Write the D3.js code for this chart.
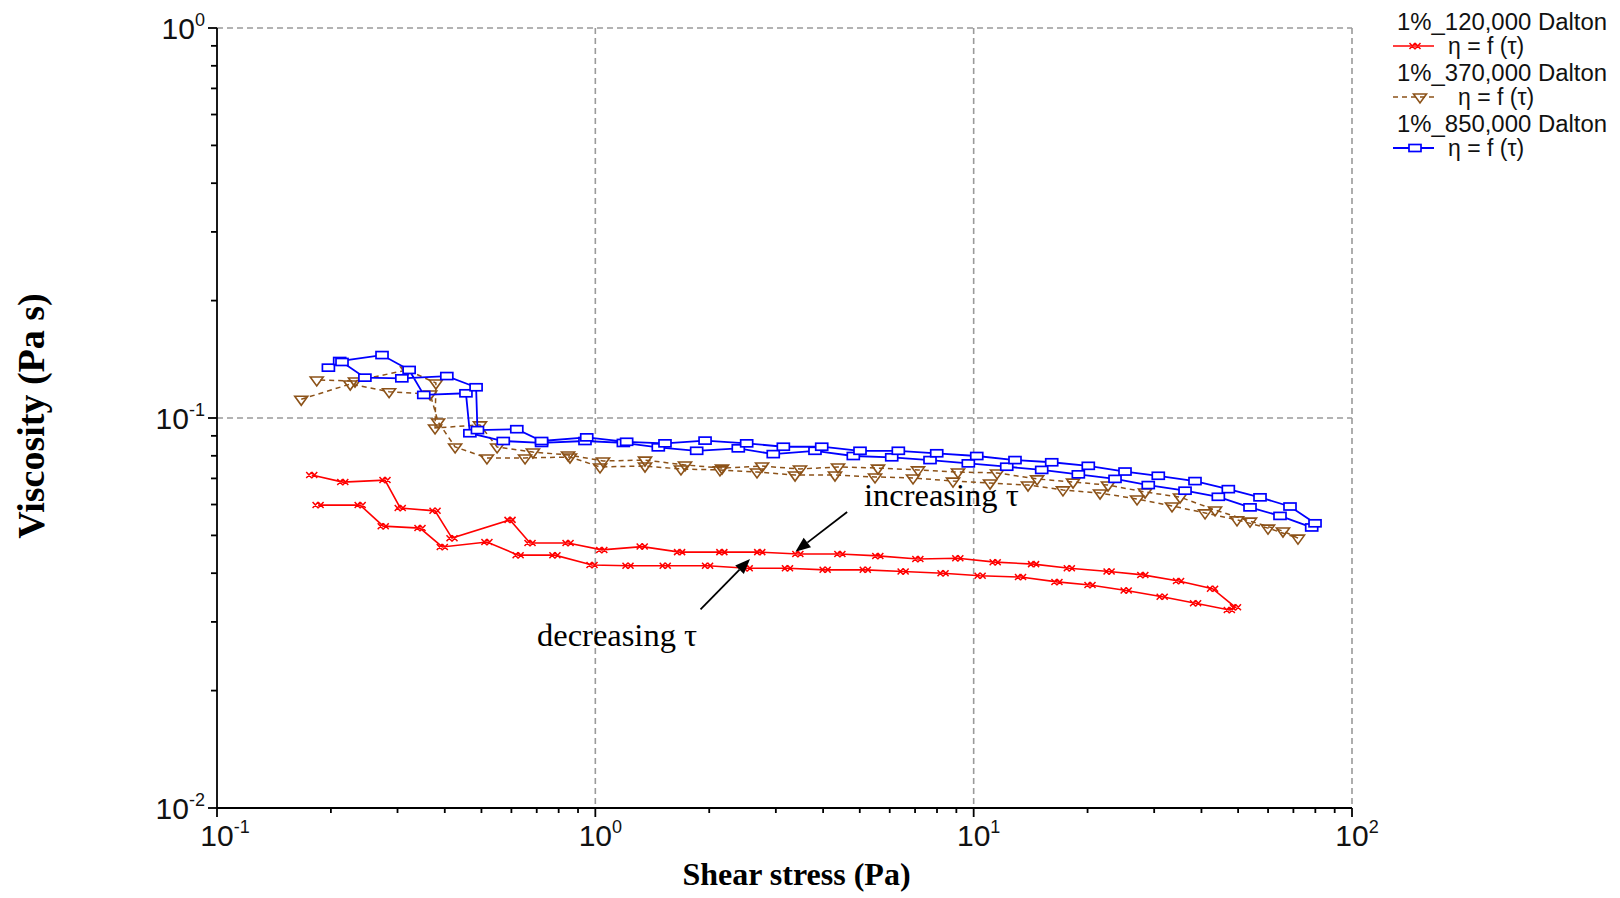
<!DOCTYPE html>
<html>
<head>
<meta charset="utf-8">
<script src="https://cdn.jsdelivr.net/npm/d3@7"></script>
<style>
  body { margin: 0; background: #fff; }
  svg { display: block; }
</style>
</head>
<body>
<svg id="chart" width="1620" height="898"></svg>
<script>
// ---- Data: viscosity (Pa s) against shear stress (Pa), up and down ramps ----
// 1% 120,000 Dalton
const stress120Inc = [0.178, 0.215, 0.278, 0.305, 0.377, 0.418, 0.595, 0.672, 0.847, 1.04, 1.33, 1.67, 2.16, 2.72, 3.43, 4.43, 5.58, 7.12, 9.08, 11.4, 14.4, 17.9, 22.8, 28.0, 34.8, 42.8, 49.2];
const visc120Inc   = [0.0714, 0.0685, 0.0693, 0.0588, 0.0578, 0.0492, 0.0548, 0.0478, 0.0478, 0.0459, 0.0468, 0.0453, 0.0453, 0.0453, 0.0448, 0.0448, 0.0443, 0.0435, 0.0437, 0.0427, 0.0422, 0.0412, 0.0404, 0.0396, 0.0382, 0.0365, 0.0327];
const stress120Dec = [47.4, 38.6, 31.5, 25.3, 20.3, 16.6, 13.3, 10.4, 8.30, 6.51, 5.17, 4.05, 3.22, 2.52, 1.98, 1.53, 1.22, 0.98, 0.782, 0.625, 0.517, 0.394, 0.344, 0.275, 0.239, 0.185];
const visc120Dec   = [0.0322, 0.0335, 0.0348, 0.0361, 0.0373, 0.0380, 0.0391, 0.0394, 0.0400, 0.0404, 0.0408, 0.0408, 0.0412, 0.0412, 0.0418, 0.0418, 0.0418, 0.0420, 0.0445, 0.0445, 0.0481, 0.0467, 0.0522, 0.0528, 0.0598, 0.0598];

// 1% 370,000 Dalton
const stress370Inc = [0.167, 0.225, 0.285, 0.366, 0.384, 0.426, 0.517, 0.652, 0.857, 1.029, 1.353, 1.684, 2.135, 2.675, 3.372, 4.300, 5.486, 6.914, 8.819, 11.05, 13.92, 17.22, 21.58, 27.03, 33.44, 40.89, 49.67, 59.98, 71.98];
const visc370Inc   = [0.1117, 0.1222, 0.1168, 0.1152, 0.0977, 0.0843, 0.0790, 0.0790, 0.0794, 0.0749, 0.0753, 0.0740, 0.0736, 0.0727, 0.0714, 0.0714, 0.0706, 0.0702, 0.0689, 0.0681, 0.0673, 0.0654, 0.0642, 0.0620, 0.0595, 0.0571, 0.0548, 0.0522, 0.0492];
const stress370Dec = [65.70, 53.76, 43.45, 35.11, 28.38, 22.65, 18.31, 14.71, 11.53, 9.09, 7.127, 5.587, 4.380, 3.475, 2.759, 2.162, 1.726, 1.353, 1.048, 0.847, 0.684, 0.550, 0.4955, 0.377, 0.379, 0.318, 0.2316, 0.1835];
const visc370Dec   = [0.0513, 0.0544, 0.0581, 0.0627, 0.0646, 0.0673, 0.0685, 0.0698, 0.0723, 0.0727, 0.0736, 0.0744, 0.0749, 0.0740, 0.0753, 0.0744, 0.0758, 0.0780, 0.0776, 0.0804, 0.0818, 0.0843, 0.0960, 0.0943, 0.1229, 0.1328, 0.1244, 0.1252];

// 1% 850,000 Dalton
const stress850Inc = [0.197, 0.211, 0.273, 0.322, 0.352, 0.455, 0.466, 0.571, 0.721, 0.939, 1.186, 1.467, 1.853, 2.387, 2.953, 3.807, 4.807, 6.073, 7.667, 9.68, 12.23, 15.13, 18.91, 23.64, 28.94, 36.20, 44.33, 53.76, 64.52, 78.25];
const visc850Inc   = [0.1346, 0.140, 0.145, 0.1328, 0.1146, 0.1157, 0.0914, 0.0873, 0.0863, 0.0873, 0.0863, 0.0841, 0.0824, 0.0836, 0.0808, 0.0824, 0.0799, 0.0793, 0.0780, 0.0765, 0.0750, 0.0736, 0.0717, 0.0698, 0.0673, 0.0651, 0.0628, 0.0590, 0.0561, 0.0524];
const stress850Dec = [79.85, 68.57, 57.13, 47.11, 38.46, 30.76, 25.12, 20.09, 16.08, 12.86, 10.19, 7.986, 6.322, 5.007, 3.966, 3.140, 2.512, 1.950, 1.528, 1.210, 0.949, 0.721, 0.620, 0.488, 0.484, 0.405, 0.308, 0.246, 0.214];
const visc850Dec   = [0.0537, 0.0593, 0.0626, 0.0657, 0.0689, 0.0711, 0.0729, 0.0754, 0.0770, 0.0780, 0.0799, 0.0812, 0.0824, 0.0824, 0.0844, 0.0844, 0.0861, 0.0875, 0.0861, 0.0869, 0.0892, 0.0873, 0.0936, 0.0931, 0.1199, 0.1281, 0.1264, 0.1269, 0.1392];

// Axis decades and labels
const xDecadeExps = [-1, 0, 1, 2];
const yDecadeExps = [-2, -1, 0];
const xGridValues = [1, 10, 100];
const yGridValues = [0.1, 1];
const xTitle = "Shear stress (Pa)";
const yTitle = "Viscosity (Pa s)";

// Legend
const seriesNames = ["1%_120,000 Dalton", "1%_370,000 Dalton", "1%_850,000 Dalton"];
const seriesLabel = "\u03b7 = f (\u03c4)";

// Annotations (arrow tail -> tip, text anchor) in data units
const annotations = [
  { text: "increasing \u03c4", tx: 5.13, ty: 0.0595, from: [4.63, 0.0574], to: [3.38, 0.0454] },
  { text: "decreasing \u03c4", tx: 0.701, ty: 0.0260, from: [1.897, 0.0323], to: [2.564, 0.0435] }
];

// ---- Layout ----
const W = 1620, H = 898;
const plot = { left: 217, right: 1352, top: 28, bottom: 808 };

const x = d3.scaleLog().domain([0.1, 100]).range([plot.left, plot.right]);
const y = d3.scaleLog().domain([0.01, 1]).range([plot.bottom, plot.top]);

const svg = d3.select("#chart");
svg.append("rect").attr("width", W).attr("height", H).attr("fill", "#fff");

// ---- Grid (dashed) ----
const grid = svg.append("g")
  .attr("stroke", "#9a9a9a")
  .attr("stroke-width", 1.6)
  .attr("stroke-dasharray", "6,4")
  .attr("fill", "none");
grid.selectAll("line.gx").data(xGridValues).join("line").attr("class", "gx")
  .attr("x1", d => x(d)).attr("x2", d => x(d))
  .attr("y1", plot.top).attr("y2", plot.bottom);
grid.selectAll("line.gy").data(yGridValues).join("line").attr("class", "gy")
  .attr("x1", plot.left).attr("x2", plot.right)
  .attr("y1", d => y(d)).attr("y2", d => y(d));

// ---- Axes ----
const axes = svg.append("g").attr("stroke", "#000").attr("stroke-width", 1.8);
axes.append("line").attr("x1", plot.left).attr("x2", plot.left).attr("y1", plot.top).attr("y2", plot.bottom);
axes.append("line").attr("x1", plot.left).attr("x2", plot.right).attr("y1", plot.bottom).attr("y2", plot.bottom);

const isDecade = v => Math.abs(Math.log10(v) - Math.round(Math.log10(v))) < 1e-9;

axes.selectAll("line.tx").data(x.ticks()).join("line").attr("class", "tx")
  .attr("x1", d => x(d)).attr("x2", d => x(d))
  .attr("y1", plot.bottom).attr("y2", d => plot.bottom + (isDecade(d) ? 9 : 5));
axes.selectAll("line.ty").data(y.ticks()).join("line").attr("class", "ty")
  .attr("y1", d => y(d)).attr("y2", d => y(d))
  .attr("x1", plot.left).attr("x2", d => plot.left - (isDecade(d) ? 9 : 6));

// ---- Tick labels (10 with superscript exponent) ----
const tickFont = "'Liberation Sans', Arial, sans-serif";
const baseW = 33.4; // advance of "10" at 30px

const xl = svg.append("g").attr("font-family", tickFont).attr("fill", "#111");
xDecadeExps.forEach(e => {
  const t = xl.append("text")
    .attr("x", x(Math.pow(10, e)) - baseW / 2)
    .attr("y", plot.bottom + 38)
    .attr("font-size", 30);
  t.append("tspan").text("10");
  t.append("tspan").attr("font-size", 18).attr("dy", -13).text(String(e));
});

const yl = svg.append("g").attr("font-family", tickFont).attr("fill", "#111");
yDecadeExps.forEach(e => {
  const t = yl.append("text")
    .attr("x", plot.left - 12)
    .attr("y", y(Math.pow(10, e)) + 11)
    .attr("text-anchor", "end")
    .attr("font-size", 30);
  t.append("tspan").text("10");
  t.append("tspan").attr("font-size", 18).attr("dy", -13).text(String(e));
});

// ---- Axis titles ----
svg.append("text")
  .attr("x", (plot.left + plot.right) / 2 + 12)
  .attr("y", 885)
  .attr("text-anchor", "middle")
  .attr("font-family", "'Liberation Serif', 'Times New Roman', serif")
  .attr("font-weight", "bold")
  .attr("font-size", 32)
  .text(xTitle);

svg.append("text")
  .attr("transform", "translate(44,416) rotate(-90)")
  .attr("text-anchor", "middle")
  .attr("font-family", "'Liberation Serif', 'Times New Roman', serif")
  .attr("font-weight", "bold")
  .attr("font-size", 38)
  .text(yTitle);

// ---- Marker shapes ----
const crossPath = "M-5.5,-3L0,3M-5.5,3L0,-3M0,-3L5.5,3M0,3L5.5,-3";
const triPath = "M-6.5,-3L6.5,-3L0,6Z";

function zipPts(xs, ys) { return xs.map((v, i) => [v, ys[i]]); }

const line = d3.line().x(d => x(d[0])).y(d => y(d[1]));

const series = [
  { inc: zipPts(stress120Inc, visc120Inc), dec: zipPts(stress120Dec, visc120Dec),
    color: "#ff0000", dash: null, width: 1.6, marker: "cross" },
  { inc: zipPts(stress370Inc, visc370Inc), dec: zipPts(stress370Dec, visc370Dec),
    color: "#8c5218", dash: "5,4", width: 1.5, marker: "tri" },
  { inc: zipPts(stress850Inc, visc850Inc), dec: zipPts(stress850Dec, visc850Dec),
    color: "#0000ff", dash: null, width: 1.8, marker: "rect" }
];

function drawMarker(g, kind, color) {
  if (kind === "cross") {
    g.append("path").attr("d", crossPath).attr("fill", "none")
      .attr("stroke", color).attr("stroke-width", 1.5);
  } else if (kind === "tri") {
    g.append("path").attr("d", triPath).attr("fill", "none")
      .attr("stroke", color).attr("stroke-width", 1.6);
  } else {
    g.append("rect").attr("x", -6).attr("y", -3.5).attr("width", 12).attr("height", 7)
      .attr("fill", "#fff").attr("stroke", color).attr("stroke-width", 1.7);
  }
}

const dataLayer = svg.append("g");
series.forEach(s => {
  const pts = s.inc.concat(s.dec);
  const g = dataLayer.append("g");
  g.append("path").datum(pts)
    .attr("d", line)
    .attr("fill", "none")
    .attr("stroke", s.color)
    .attr("stroke-width", s.width)
    .attr("stroke-dasharray", s.dash);
  g.selectAll("g.m").data(pts).join("g").attr("class", "m")
    .attr("transform", d => `translate(${x(d[0])},${y(d[1])})`)
    .each(function () { drawMarker(d3.select(this), s.marker, s.color); });
});

// ---- Annotations ----
const ann = svg.append("g");
annotations.forEach(a => {
  const x1 = x(a.from[0]), y1 = y(a.from[1]);
  const x2 = x(a.to[0]), y2 = y(a.to[1]);
  const ang = Math.atan2(y2 - y1, x2 - x1);
  const len = 15, half = 6;
  const bx = x2 - len * Math.cos(ang), by = y2 - len * Math.sin(ang);
  ann.append("line").attr("x1", x1).attr("y1", y1).attr("x2", bx).attr("y2", by)
    .attr("stroke", "#000").attr("stroke-width", 1.8);
  const px = -Math.sin(ang) * half, py = Math.cos(ang) * half;
  ann.append("path")
    .attr("d", `M${x2},${y2}L${bx + px},${by + py}L${bx - px},${by - py}Z`)
    .attr("fill", "#000");
  ann.append("text")
    .attr("x", x(a.tx)).attr("y", y(a.ty))
    .attr("font-family", "'Liberation Serif', 'Times New Roman', serif")
    .attr("font-size", 32.5)
    .attr("fill", "#000")
    .text(a.text);
});

// ---- Legend ----
const legend = svg.append("g").attr("font-family", tickFont).attr("font-size", 23).attr("fill", "#111");
const legendTop = 30, legendStep = 51;
series.forEach((s, i) => {
  const by = legendTop + i * legendStep;
  legend.append("text").attr("x", 1397).attr("y", by)
    .attr("textLength", 210).attr("lengthAdjust", "spacingAndGlyphs")
    .text(seriesNames[i]);
  const ly = by + 16;
  legend.append("line").attr("x1", 1393).attr("x2", 1434).attr("y1", ly).attr("y2", ly)
    .attr("stroke", s.color).attr("stroke-width", s.width).attr("stroke-dasharray", s.dash);
  const mg = legend.append("g").attr("transform", `translate(${i === 1 ? 1420 : 1415},${ly})`);
  drawMarker(mg, s.marker, s.color);
  legend.append("text").attr("x", i === 1 ? 1458 : 1448).attr("y", by + 24).text(seriesLabel);
});
</script>
</body>
</html>
